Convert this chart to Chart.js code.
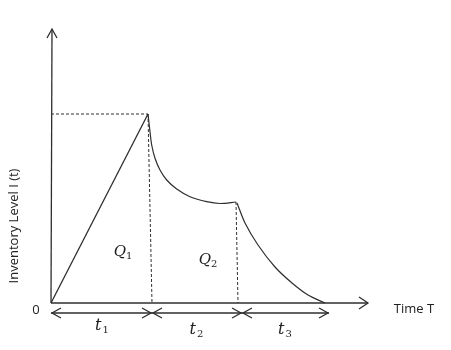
<!DOCTYPE html>
<html>
<head>
<meta charset="utf-8">
<script src="https://cdn.jsdelivr.net/npm/chart.js"></script>
<style>
  html, body { margin: 0; padding: 0; background: #fff; }
  #wrap { width: 451px; height: 350px; }
</style>
</head>
<body>
<div id="wrap"><canvas id="inventoryChart" width="451" height="350"></canvas></div>
<script>
// 库存水平数据 (横轴: 时间, 纵轴: 库存)
const riseX = [0, 9.7];
const riseY = [0, 18.9];
const decay1X = [9.7, 9.9, 10.07, 10.4, 10.9, 11.57, 12.57, 13.9, 15.57, 16.9, 18.5];
const decay1Y = [18.9, 17.13, 15.8, 14.47, 13.3, 12.3, 11.4, 10.63, 10.13, 9.95, 10.1];
const decay2X = [18.6, 19.4, 20.7, 22.4, 24.1, 25.7, 27.4];
const decay2Y = [10.0, 8.0, 5.8, 3.6, 2.0, 0.8, 0];
// 各阶段分界
const periodEdges = [0, 10.1, 19.1, 27.8];
const periodLabels = ['1', '2', '3'];
// 面积标签
const areaLabels = ['1', '2'];
const areaX = [7.2, 15.7];
const areaY = [5.1, 4.3];
const axisMaxX = 31.7;
const axisMaxY = 27.4;
const xLabel = 'Time T';
const yLabel = 'Inventory Level I (t)';

const INK = '#2e2e2e';

function pts(xs, ys) {
    return xs.map((x, i) => ({ x: x, y: ys[i] }));
}

function chevron(ctx, tx, ty, dx, dy, len, half) {
    const px = -dy, py = dx;
    ctx.beginPath();
    ctx.moveTo(tx - dx * len + px * half, ty - dy * len + py * half);
    ctx.lineTo(tx, ty);
    ctx.lineTo(tx - dx * len - px * half, ty - dy * len - py * half);
    ctx.stroke();
}

// 画坐标轴箭头、尺寸线和文字
const decorPlugin = {
    id: 'decor',
    afterDatasetsDraw(chart) {
        const ctx = chart.ctx;
        const sx = chart.scales.x, sy = chart.scales.y;
        const X = v => sx.getPixelForValue(v);
        const Y = v => sy.getPixelForValue(v);
        ctx.save();
        ctx.strokeStyle = INK;
        ctx.lineWidth = 1.3;

        // axis arrow heads
        chevron(ctx, X(0.1), Y(axisMaxY), 0, -1, 9, 5);
        chevron(ctx, X(axisMaxX), Y(0), 1, 0, 9, 6);

        // dimension lines below axis
        const dimY = Y(0) + 10;
        for (let i = 0; i < periodEdges.length - 1; i++) {
            const a = X(periodEdges[i]), b = X(periodEdges[i + 1]);
            ctx.beginPath();
            ctx.moveTo(a, dimY);
            ctx.lineTo(b, dimY);
            ctx.stroke();
            chevron(ctx, a + 1, dimY, -1, 0, 9, 5);
            chevron(ctx, b - 1, dimY, 1, 0, 9, 5);
        }

        ctx.fillStyle = '#222';
        ctx.textAlign = 'center';
        ctx.textBaseline = 'middle';

        // period labels t1 t2 t3
        for (let i = 0; i < periodLabels.length; i++) {
            const cx = (X(periodEdges[i]) + X(periodEdges[i + 1])) / 2 + (i === 0 ? 0 : -1);
            const cy = dimY + (i === 0 ? 13 : 17);
            ctx.font = 'italic 16px "DejaVu Serif"';
            ctx.textAlign = 'right';
            ctx.fillText('t', cx, cy);
            ctx.font = '10px "DejaVu Serif"';
            ctx.textAlign = 'left';
            ctx.fillText(periodLabels[i], cx + 1, cy + 4);
        }

        // area labels Q1 Q2
        for (let i = 0; i < areaLabels.length; i++) {
            const cx = X(areaX[i]), cy = Y(areaY[i]);
            ctx.font = 'italic 15px "DejaVu Serif"';
            ctx.textAlign = 'right';
            ctx.fillText('Q', cx + 3, cy);
            ctx.font = '10px "DejaVu Serif"';
            ctx.textAlign = 'left';
            ctx.fillText(areaLabels[i], cx + 3, cy + 4);
        }

        // origin, axis titles
        ctx.font = '13px "Open Sans"';
        ctx.textAlign = 'center';
        ctx.fillText('0', X(0) - 15, Y(0) + 7);
        ctx.fillText(xLabel, X(axisMaxX) + 46, Y(0) + 6);
        ctx.translate(14, 226);
        ctx.rotate(-Math.PI / 2);
        ctx.font = '13px "Open Sans"';
        ctx.fillText(yLabel, 0, 0);
        ctx.restore();
    }
};

function lineSet(data, extra) {
    return Object.assign({
        data: data,
        showLine: true,
        borderColor: INK,
        borderWidth: 1.3,
        pointRadius: 0,
        fill: false
    }, extra || {});
}

function initInventoryChart() {
    const ctx = document.getElementById('inventoryChart');
    new Chart(ctx, {
        type: 'scatter',
        data: {
            datasets: [
                // axes
                lineSet([{ x: 0, y: 0 }, { x: 0.1, y: axisMaxY }]),
                lineSet([{ x: 0, y: 0 }, { x: axisMaxX, y: 0 }]),
                // inventory curve
                lineSet(pts(riseX, riseY)),
                lineSet(pts(decay1X, decay1Y), { tension: 0.3, borderWidth: 1.2 }),
                lineSet(pts(decay2X, decay2Y), { tension: 0.3, borderWidth: 1.2 }),
                // dashed guides
                lineSet([{ x: 0, y: riseY[1] }, { x: riseX[1], y: riseY[1] }], { borderDash: [3, 2], borderWidth: 1 }),
                lineSet([{ x: riseX[1], y: riseY[1] }, { x: periodEdges[1], y: 0 }], { borderDash: [3, 2], borderWidth: 1 }),
                lineSet([{ x: decay1X[decay1X.length - 1], y: decay1Y[decay1Y.length - 1] }, { x: 18.7, y: 0 }], { borderDash: [3, 2], borderWidth: 1 })
            ]
        },
        options: {
            responsive: false,
            animation: false,
            layout: { padding: 0 },
            plugins: { legend: { display: false }, tooltip: { enabled: false } },
            scales: {
                x: { type: 'linear', min: -5.1, max: 40, display: false },
                y: { type: 'linear', min: -4.7, max: 30.3, display: false }
            }
        },
        plugins: [decorPlugin]
    });
}

if (document.readyState === 'loading') {
    document.addEventListener('DOMContentLoaded', initInventoryChart);
} else {
    initInventoryChart();
}
</script>
</body>
</html>
